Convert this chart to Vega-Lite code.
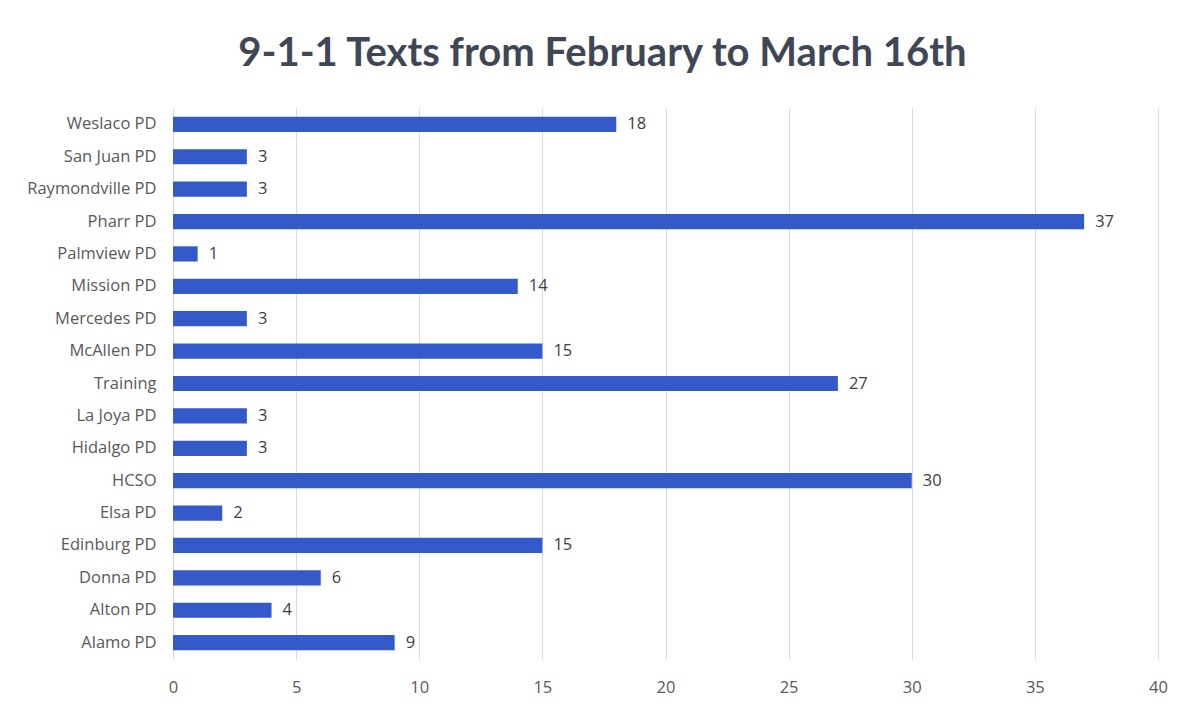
{
  "$schema": "https://vega.github.io/schema/vega-lite/v6.json",
  "width": 985,
  "height": 551,
  "autosize": {"type": "none"},
  "padding": {"left": 173, "top": 108, "right": 30, "bottom": 53},
  "background": "white",
  "title": {
    "text": "9-1-1 Texts from February to March 16th",
    "font": "Lato",
    "fontSize": 40,
    "fontWeight": "bold",
    "color": "#3f4756",
    "anchor": "middle",
    "dx": -63,
    "offset": 34
  },
  "data": {
    "values": [
      {"agency": "Weslaco PD", "texts": 18},
      {"agency": "San Juan PD", "texts": 3},
      {"agency": "Raymondville PD", "texts": 3},
      {"agency": "Pharr PD", "texts": 37},
      {"agency": "Palmview PD", "texts": 1},
      {"agency": "Mission PD", "texts": 14},
      {"agency": "Mercedes PD", "texts": 3},
      {"agency": "McAllen PD", "texts": 15},
      {"agency": "Training", "texts": 27},
      {"agency": "La Joya PD", "texts": 3},
      {"agency": "Hidalgo PD", "texts": 3},
      {"agency": "HCSO", "texts": 30},
      {"agency": "Elsa PD", "texts": 2},
      {"agency": "Edinburg PD", "texts": 15},
      {"agency": "Donna PD", "texts": 6},
      {"agency": "Alton PD", "texts": 4},
      {"agency": "Alamo PD", "texts": 9}
    ]
  },
  "encoding": {
    "y": {
      "field": "agency",
      "type": "nominal",
      "sort": null,
      "title": null,
      "scale": {"paddingInner": 0.53, "paddingOuter": 0.27},
      "axis": {
        "domain": false,
        "ticks": false,
        "grid": false,
        "labelFont": "Open Sans",
        "labelFontSize": 16.5,
        "labelColor": "#595959",
        "labelPadding": 17
      }
    },
    "x": {
      "field": "texts",
      "type": "quantitative",
      "title": null,
      "scale": {"domain": [0, 40], "nice": false},
      "axis": {
        "values": [0, 5, 10, 15, 20, 25, 30, 35, 40],
        "domain": false,
        "ticks": false,
        "grid": true,
        "gridColor": "#d9d9d9",
        "gridWidth": 1,
        "labelFlush": false,
        "labelFont": "Open Sans",
        "labelFontSize": 16.5,
        "labelColor": "#595959",
        "labelPadding": 20
      }
    }
  },
  "layer": [
    {
      "mark": {"type": "bar", "color": "#3459c8"}
    },
    {
      "mark": {
        "type": "text",
        "align": "left",
        "baseline": "middle",
        "dx": 11,
        "font": "Open Sans",
        "fontSize": 16.5,
        "color": "#404040"
      },
      "encoding": {"text": {"field": "texts", "type": "quantitative"}}
    }
  ],
  "config": {"view": {"stroke": null}}
}
